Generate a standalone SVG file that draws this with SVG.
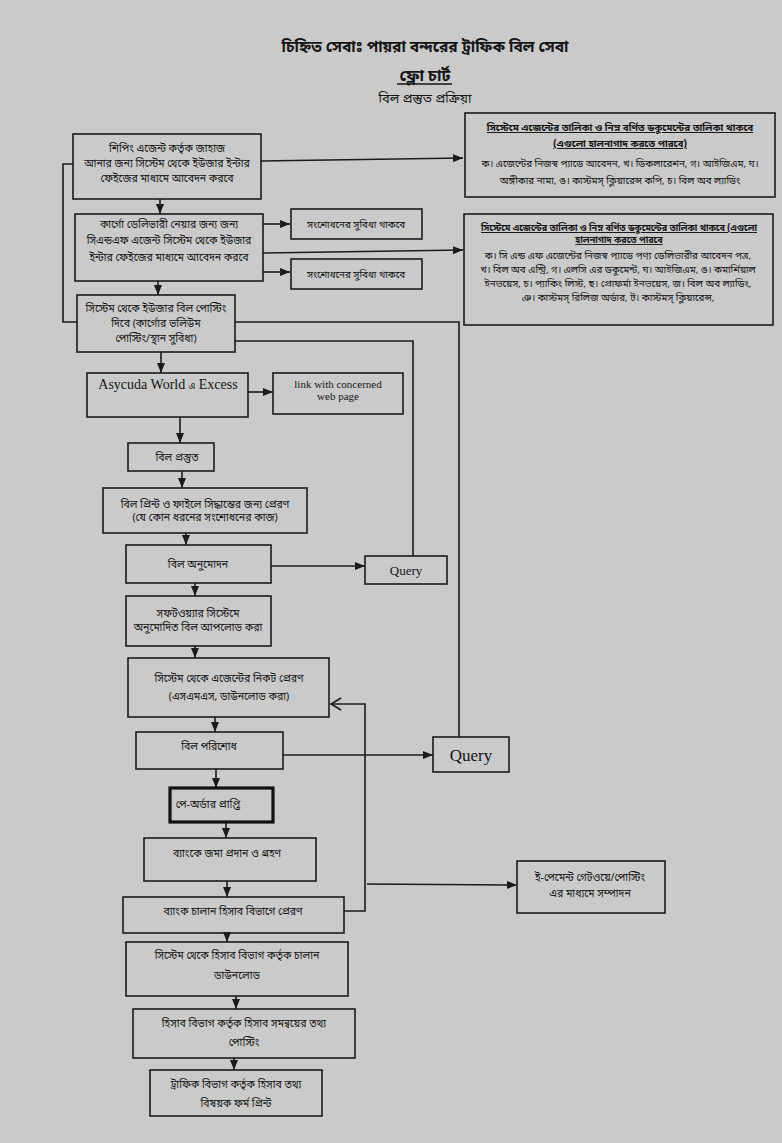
<svg xmlns="http://www.w3.org/2000/svg" width="782" height="1143" viewBox="0 0 782 1143">
<defs>
<style>
.bx{fill:none;stroke:#1b1b1b;stroke-width:1.6}
.thick{fill:none;stroke:#111;stroke-width:3.2}
.ln{fill:none;stroke:#1b1b1b;stroke-width:1.6}
.t{font-family:"Noto Sans Bengali","Noto Sans","DejaVu Sans",sans-serif;font-size:10.5px;fill:#151515;text-anchor:middle}
.s{font-size:9.8px}
.h{font-weight:bold;text-decoration:underline}
.e{font-family:"Liberation Serif","DejaVu Serif",serif;fill:#151515;text-anchor:middle}
</style>
<marker id="ar" markerUnits="userSpaceOnUse" markerWidth="10" markerHeight="10" viewBox="0 0 10 10" refX="10" refY="5" orient="auto">
<path d="M0,1 L10,5 L0,9 Z" fill="#1b1b1b"/>
</marker>
<marker id="op" markerUnits="userSpaceOnUse" markerWidth="12" markerHeight="14" viewBox="0 0 12 14" refX="11" refY="7" orient="auto">
<path d="M1,1 L11,7 L1,13" fill="none" stroke="#1b1b1b" stroke-width="1.6"/>
</marker>
</defs>
<rect width="782" height="1143" fill="#cacaca"/>

<g id="title">
<text class="t" x="425" y="52" style="font-size:15.5px;font-weight:bold">চিহ্নিত সেবাঃ পায়রা বন্দরের ট্রাফিক বিল সেবা</text>
<text class="t" x="425" y="81" style="font-size:16px;font-weight:bold">ফ্লো চার্ট</text>
<line x1="397" y1="84" x2="452" y2="84" stroke="#151515" stroke-width="1.5"/>
<text class="t" x="425" y="103" style="font-size:13px">বিল প্রস্তুত প্রক্রিয়া</text>
</g>

<g id="connectors">
<path class="ln" d="M261,161 L463,158" marker-end="url(#ar)"/>
<path class="ln" d="M263,224 L290,224" marker-end="url(#ar)"/>
<path class="ln" d="M263,272 L290,272" marker-end="url(#ar)"/>
<path class="ln" d="M263,253 L463,250" marker-end="url(#ar)"/>
<path class="ln" d="M73,164 L63,164 L63,322 L77,322"/>
<path class="ln" d="M160,199 L160,214" marker-end="url(#ar)"/>
<path class="ln" d="M158,281 L158,295" marker-end="url(#ar)"/>
<path class="ln" d="M161,352 L161,373" marker-end="url(#ar)"/>
<path class="ln" d="M248,392 L273,392" marker-end="url(#ar)"/>
<path class="ln" d="M180,417 L180,443" marker-end="url(#ar)"/>
<path class="ln" d="M182,471 L182,488" marker-end="url(#ar)"/>
<path class="ln" d="M186,533 L186,545" marker-end="url(#ar)"/>
<path class="ln" d="M271,566 L365,566" marker-end="url(#ar)"/>
<path class="ln" d="M195,583 L195,596" marker-end="url(#ar)"/>
<path class="ln" d="M195,646 L195,658" marker-end="url(#ar)"/>
<path class="ln" d="M215,717 L215,732" marker-end="url(#ar)"/>
<path class="ln" d="M283,755 L433,755" marker-end="url(#ar)"/>
<path class="ln" d="M216,769 L216,788" marker-end="url(#ar)"/>
<path class="ln" d="M226,822 L226,838" marker-end="url(#ar)"/>
<path class="ln" d="M227,881 L227,897" marker-end="url(#ar)"/>
<path class="ln" d="M344,911 L365,911 L365,704 L331,704" marker-end="url(#op)"/>
<path class="ln" d="M367,884 L517,885" marker-end="url(#ar)"/>
<path class="ln" d="M235,341 L413,341 L413,556"/>
<path class="ln" d="M235,322 L459,322 L459,737"/>
<path class="ln" d="M227,933 L227,942" marker-end="url(#ar)"/>
<path class="ln" d="M236,996 L236,1009" marker-end="url(#ar)"/>
<path class="ln" d="M234,1058 L234,1070" marker-end="url(#ar)"/>
</g>

<g id="n1">
<rect class="bx" x="73" y="134" width="188" height="65"/>
<text class="t" x="167" y="152">শিপিং এজেন্ট কর্তৃক জাহাজ</text>
<text class="t" x="167" y="167">আনার জন্য সিস্টেম থেকে ইউজার ইন্টার</text>
<text class="t" x="167" y="182">ফেইজের মাধ্যমে আবেদন করবে</text>
</g>
<g id="n2">
<rect class="bx" x="75" y="214" width="188" height="67"/>
<text class="t" x="169" y="228">কার্গো ডেলিভারী নেয়ার জন্য জন্য</text>
<text class="t" x="169" y="244">সিএন্ডএফ এজেন্ট সিস্টেম থেকে ইউজার</text>
<text class="t" x="169" y="261">ইন্টার ফেইজের মাধ্যমে আবেদন করবে</text>
</g>
<g id="n3">
<rect class="bx" x="77" y="295" width="158" height="57"/>
<text class="t" x="156" y="312">সিস্টেম থেকে ইউজার বিল পোস্টিং</text>
<text class="t" x="156" y="327">দিবে (কার্গোর ভলিউম</text>
<text class="t" x="156" y="342">পোস্টিং/স্থান সুবিধা)</text>
</g>
<g id="s1">
<rect class="bx" x="291" y="209" width="131" height="30"/>
<text class="t s" x="356" y="228">সংশোধনের সুবিধা থাকবে</text>
</g>
<g id="s2">
<rect class="bx" x="291" y="259" width="131" height="30"/>
<text class="t s" x="356" y="278">সংশোধনের সুবিধা থাকবে</text>
</g>
<g id="r1">
<rect class="bx" x="465" y="113" width="310" height="84"/>
<text class="t s h" x="620" y="131">সিস্টেমে এজেন্টের তালিকা ও নিম্ন বর্ণিত ডকুমেন্টের তালিকা থাকবে</text>
<text class="t s h" x="620" y="147">(এগুলো হালনাগাদ করতে পারবে)</text>
<text class="t s" x="620" y="167">ক। এজেন্টের নিজস্ব প্যাডে আবেদন, খ। ডিকলারেশন, গ। আইজিএম, ঘ।</text>
<text class="t s" x="620" y="184">অঙ্গীকার নামা, ঙ। কাস্টমস্ ক্লিয়ারেন্স কপি, চ। বিল অব ল্যাডিং</text>
</g>
<g id="r2">
<rect class="bx" x="464" y="214" width="309" height="111"/>
<text class="t s h" x="619" y="231" textLength="276" lengthAdjust="spacingAndGlyphs">সিস্টেমে এজেন্টের তালিকা ও নিম্ন বর্ণিত ডকুমেন্টের তালিকা থাকবে (এগুলো</text>
<text class="t s h" x="619" y="243" style="font-size:9px">হালনাগাদ করতে পারবে</text>
<text class="t s" x="618" y="259">ক। সি এন্ড এফ এজেন্টের নিজস্ব প্যাডে পণ্য ডেলিভারীর আবেদন পত্র,</text>
<text class="t s" x="618" y="273">খ। বিল অব এন্ট্রি, গ। এলসি এর ডকুমেন্ট, ঘ। আইজিএম, ঙ। কমার্শিয়াল</text>
<text class="t s" x="618" y="287">ইনভয়েস, চ। প্যাকিং লিস্ট, ছ। প্রোফর্মা ইনভয়েস, জ। বিল অব ল্যাডিং,</text>
<text class="t s" x="618" y="301">ঞ। কাস্টমস্ রিলিজ অর্ডার, ট। কাস্টমস্ ক্লিয়ারেন্স,</text>
</g>
<g id="n4">
<rect class="bx" x="87" y="373" width="161" height="44"/>
<text class="e" x="168" y="389" style="font-size:14px">Asycuda World <tspan style="font-family:'Noto Sans Bengali','Noto Sans',sans-serif;font-size:9px">এ</tspan> Excess</text>
</g>
<g id="n5">
<rect class="bx" x="273" y="373" width="130" height="41"/>
<text class="e" x="338" y="388" style="font-size:11px">link with concerned</text>
<text class="e" x="338" y="400" style="font-size:11px">web page</text>
</g>
<g id="n6">
<rect class="bx" x="128" y="443" width="86" height="28"/>
<text class="t" x="177" y="461">বিল প্রস্তুত</text>
</g>
<g id="n7">
<rect class="bx" x="103" y="488" width="204" height="45"/>
<text class="t" x="205" y="508">বিল প্রিন্ট ও ফাইলে সিদ্ধান্তের জন্য প্রেরণ</text>
<text class="t" x="205" y="521">(যে কোন ধরনের সংশোধনের কাজ)</text>
</g>
<g id="n8">
<rect class="bx" x="126" y="545" width="145" height="38"/>
<text class="t" x="198" y="568">বিল অনুমোদন</text>
</g>
<g id="q1">
<rect class="bx" x="365" y="556" width="82" height="28"/>
<text class="e" x="406" y="575" style="font-size:13px">Query</text>
</g>
<g id="n9">
<rect class="bx" x="126" y="596" width="145" height="50"/>
<text class="t" x="198" y="617">সফটওয়্যার সিস্টেমে</text>
<text class="t" x="198" y="631">অনুমোদিত বিল আপলোড করা</text>
</g>
<g id="n10">
<rect class="bx" x="128" y="658" width="201" height="59"/>
<text class="t" x="229" y="682">সিস্টেম থেকে এজেন্টের নিকট প্রেরণ</text>
<text class="t" x="229" y="700">(এসএমএস, ডাউনলোড করা)</text>
</g>
<g id="n11">
<rect class="bx" x="136" y="732" width="147" height="37"/>
<text class="t" x="209" y="750">বিল পরিশোধ</text>
</g>
<g id="q2">
<rect class="bx" x="433" y="737" width="76" height="35"/>
<text class="e" x="471" y="761" style="font-size:17px">Query</text>
</g>
<g id="n12">
<rect class="thick" x="170" y="788" width="103" height="34"/>
<text class="t" x="208" y="808">পে-অর্ডার প্রাপ্তি</text>
</g>
<g id="n13">
<rect class="bx" x="144" y="838" width="172" height="43"/>
<text class="t" x="227" y="857">ব্যাংকে জমা প্রদান ও গ্রহণ</text>
</g>
<g id="n14">
<rect class="bx" x="123" y="897" width="221" height="36"/>
<text class="t" x="233" y="915">ব্যাংক চালান হিসাব বিভাগে প্রেরণ</text>
</g>
<g id="n15">
<rect class="bx" x="517" y="861" width="148" height="52"/>
<text class="t" x="590" y="881">ই-পেমেন্ট গেটওয়ে/পোস্টিং</text>
<text class="t" x="590" y="897">এর মাধ্যমে সম্পাদন</text>
</g>
<g id="n16">
<rect class="bx" x="126" y="942" width="222" height="54"/>
<text class="t" x="237" y="959">সিস্টেম থেকে হিসাব বিভাগ কর্তৃক চালান</text>
<text class="t" x="237" y="979">ডাউনলোড</text>
</g>
<g id="n17">
<rect class="bx" x="133" y="1009" width="222" height="49"/>
<text class="t" x="244" y="1027">হিসাব বিভাগ কর্তৃক হিসাব সমন্বয়ের তথ্য</text>
<text class="t" x="244" y="1046">পোস্টিং</text>
</g>
<g id="n18">
<rect class="bx" x="150" y="1070" width="172" height="46"/>
<text class="t" x="236" y="1088">ট্রাফিক বিভাগ কর্তৃক হিসাব তথ্য</text>
<text class="t" x="236" y="1107">বিষয়ক ফর্ম প্রিন্ট</text>
</g>
</svg>
